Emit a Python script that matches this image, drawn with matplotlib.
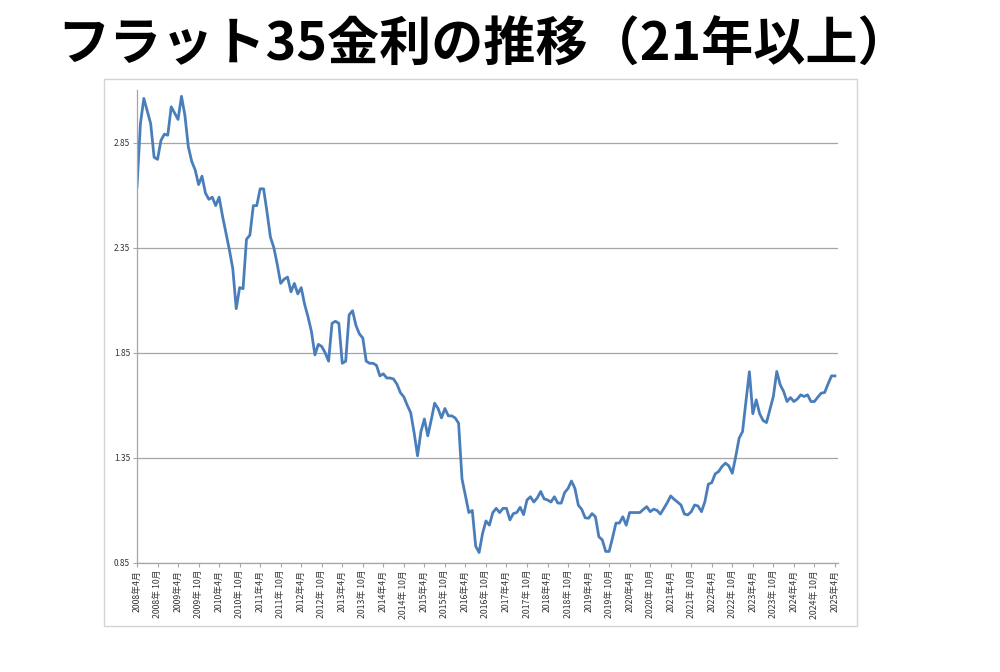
import matplotlib

matplotlib.use("Agg")
import matplotlib.pyplot as plt
import numpy as np
from matplotlib.patches import Rectangle

plt.rcParams["font.family"] = ["Noto Sans CJK JP", "DejaVu Sans"]

# monthly rate (%) from 2008年4月 to 2025年4月
rates = [
    2.64, 2.94, 3.06, 3.00, 2.94, 2.78, 2.77, 2.86, 2.89, 2.885,
    3.02, 2.99, 2.96, 3.07, 2.98, 2.83, 2.76, 2.72, 2.65, 2.69,
    2.61, 2.58, 2.59, 2.55, 2.59, 2.50, 2.42, 2.34, 2.25, 2.06,
    2.16, 2.155, 2.39, 2.41, 2.55, 2.55, 2.63, 2.63, 2.52, 2.40,
    2.35, 2.27, 2.18, 2.20, 2.21, 2.14, 2.18, 2.13, 2.16, 2.08,
    2.02, 1.95, 1.84, 1.89, 1.88, 1.85, 1.81, 1.99, 2.00, 1.99,
    1.80, 1.81, 2.03, 2.05, 1.98, 1.94, 1.92, 1.81, 1.80, 1.80,
    1.79, 1.74, 1.75, 1.73, 1.73, 1.725, 1.70, 1.66, 1.64, 1.60,
    1.565, 1.47, 1.36, 1.475, 1.535, 1.455, 1.53, 1.61, 1.585, 1.54,
    1.585, 1.55, 1.55, 1.54, 1.515, 1.25, 1.17, 1.09, 1.10, 0.93,
    0.90, 0.99, 1.05, 1.03, 1.09, 1.11, 1.09, 1.11, 1.11, 1.055,
    1.085, 1.09, 1.115, 1.08, 1.15, 1.165, 1.14, 1.16, 1.19, 1.155,
    1.15, 1.14, 1.165, 1.135, 1.135, 1.185, 1.205, 1.24, 1.205, 1.125,
    1.105, 1.065, 1.063, 1.085, 1.07, 0.975, 0.96, 0.905, 0.905, 0.97,
    1.04, 1.04, 1.07, 1.03, 1.09, 1.09, 1.09, 1.09, 1.105, 1.118,
    1.094, 1.106, 1.10, 1.083, 1.11, 1.137, 1.169, 1.153, 1.14, 1.126,
    1.083, 1.079, 1.094, 1.126, 1.121, 1.094, 1.142, 1.225, 1.232, 1.274,
    1.285, 1.309, 1.325, 1.312, 1.277, 1.356, 1.444, 1.475, 1.62, 1.76,
    1.56, 1.626, 1.56, 1.528, 1.518, 1.58, 1.642, 1.761, 1.698, 1.666,
    1.618, 1.637, 1.618, 1.63, 1.65, 1.642, 1.65, 1.618, 1.618, 1.639,
    1.658, 1.661, 1.702, 1.74, 1.74,
]

years = list(range(2008, 2026))
tick_labels = []
for y in years:
    tick_labels.append(f"{y}年4月")
    if y < 2025:
        tick_labels.append(f"{y}年 10月")

y_ticks = [0.85, 1.35, 1.85, 2.35, 2.85]
title = "フラット35金利の推移（21年以上）"

fig = plt.figure(figsize=(10, 6.72), dpi=100)

# light frame around the chart area (like the pasted Excel chart)
fig.patches.append(Rectangle((104 / 1000, 1 - 626 / 672), (857 - 104) / 1000, (626 - 79) / 672,
                             transform=fig.transFigure, fill=False, edgecolor="#d4d4d4", lw=1.0))

ax = fig.add_axes([0.137, 1 - 563 / 672, 0.701, (563 - 90) / 672])
months = np.arange(len(rates))
ax.plot(months, rates, color="#4a7ebb", lw=2.0, solid_joinstyle="round")

ax.set_ylim(0.85, 3.1)
ax.set_xlim(0, 204.9)
ax.set_yticks(y_ticks)
ax.set_yticklabels([f"{v:.2f}" for v in y_ticks], fontsize=6, color="#333333")
ax.set_xticks(np.arange(0, 205, 6))
ax.set_xticklabels(tick_labels, rotation=90, fontsize=6.3, color="#333333")
ax.grid(axis="y", color="#a6a6a6", lw=0.9)
ax.set_axisbelow(True)
for s in ("top", "right"):
    ax.spines[s].set_visible(False)
for s in ("left", "bottom"):
    ax.spines[s].set_color("#a6a6a6")
    ax.spines[s].set_linewidth(0.9)
ax.tick_params(axis="both", length=3, color="#a6a6a6", pad=2)

fig.text(0.484, 1 - 45 / 672, title, ha="center", va="center",
         fontsize=37.5, fontweight="bold", color="black")

fig.savefig("out.png", dpi=100)
